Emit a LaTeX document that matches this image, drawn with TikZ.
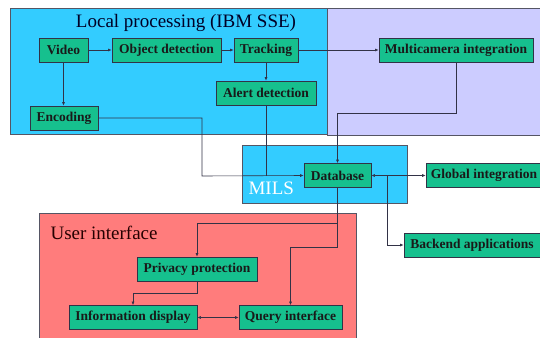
\documentclass[tikz,border=0pt]{standalone}
\usepackage{fontspec}
\setmainfont{Liberation Serif}
\usetikzlibrary{arrows.meta}

\definecolor{localblue}{RGB}{51,204,255}
\definecolor{multilav}{RGB}{204,204,255}
\definecolor{uired}{RGB}{255,124,124}
\definecolor{boxgreen}{RGB}{22,192,142}
\definecolor{linegray}{RGB}{50,50,70}
\definecolor{edgegray}{RGB}{85,85,100}

\tikzset{
    region/.style={draw=edgegray, line width=0.8pt},
    block/.style={draw=linegray, fill=boxgreen, line width=0.7pt, font=\fontsize{13.5}{15}\selectfont\bfseries,
        text=black!90, minimum height=24pt, inner xsep=0pt, inner ysep=0pt},
    heading/.style={font=\fontsize{19}{22}\selectfont},
    link/.style={draw=linegray, line width=0.6pt},
    arr/.style={link, -{Latex[length=3.5pt,width=3pt]}},
    biarr/.style={link, {Latex[length=3.5pt,width=3pt]}-{Latex[length=3.5pt,width=3pt]}}
}

\begin{document}
\begin{tikzpicture}[x=1pt, y=-1pt]
    \useasboundingbox (0,0) rectangle (540,337);
    \fill[white] (0,0) rectangle (540,337);

    \draw[region, fill=multilav] (327,8) rectangle (548,135);
    \draw[region, fill=localblue] (10,8) rectangle (327,134);
    \draw[region, fill=localblue] (242,145) rectangle (407,203);
    \draw[region, fill=uired] (39,213) rectangle (356,345);

    \node[heading, text=black!85!blue] (localtitle) at (186,23) {Local processing (IBM SSE)};
    \node[heading, text=white, anchor=west] (milstitle) at (245,188) {MILS};
    \node[heading, text=black!85!red, anchor=west] (uititle) at (47,233) {User interface};

    \coordinate (encturn) at (202,176);
    \coordinate (mcturn) at (337.5,113);
    \coordinate (bkturn) at (387,176);
    \coordinate (privturn) at (337.5,223);
    \coordinate (queryturn) at (337.5,247);
    \coordinate (infoturn) at (197,293);

    \node[block, minimum width=49pt] (video) at (63.5,50) {Video};
    \node[block, minimum width=109pt] (objdet) at (166.5,50) {Object detection};
    \node[block, minimum width=64pt] (tracking) at (266,50) {Tracking};
    \node[block, minimum width=100pt] (alert) at (266,93) {Alert detection};
    \node[block, minimum width=68pt] (encoding) at (64,118) {Encoding};
    \node[block, minimum width=154pt] (multicam) at (456,50) {Multicamera integration};
    \node[block, minimum width=67pt] (database) at (337.5,175.5) {Database};
    \node[block, minimum width=116pt] (global) at (484,175.5) {Global integration};
    \node[block, minimum width=136pt] (backend) at (472,245) {Backend applications};
    \node[block, minimum width=120pt] (privacy) at (197,269) {Privacy protection};
    \node[block, minimum width=128pt] (infodisp) at (133,317.5) {Information display};
    \node[block, minimum width=103pt] (query) at (290.5,317.5) {Query interface};

    \draw[arr] (video) -- (objdet);
    \draw[arr] (objdet) -- (tracking);
    \draw[arr] (video) -- (video |- encoding.north);
    \draw[arr] (tracking) -- (alert);
    \draw[arr] (tracking) -- (multicam);
    \draw[arr] (encoding.east) -| (encturn) -- (database.west);
    \draw[link] (alert.south) -- (alert |- encturn);
    \draw[arr] (multicam.south) |- (mcturn) -- (database.north);
    \draw[biarr] (database) -- (global);
    \draw[arr] (bkturn) |- (backend.west);
    \draw[link] (database.south) -- (queryturn);
    \draw[arr] (privturn) -| (privacy.north);
    \draw[arr] (queryturn) -| (query.north);
    \draw[arr] (privacy.south) -- (infoturn) -| (infodisp.north);
    \draw[biarr] (infodisp) -- (query);
\end{tikzpicture}
\end{document}
